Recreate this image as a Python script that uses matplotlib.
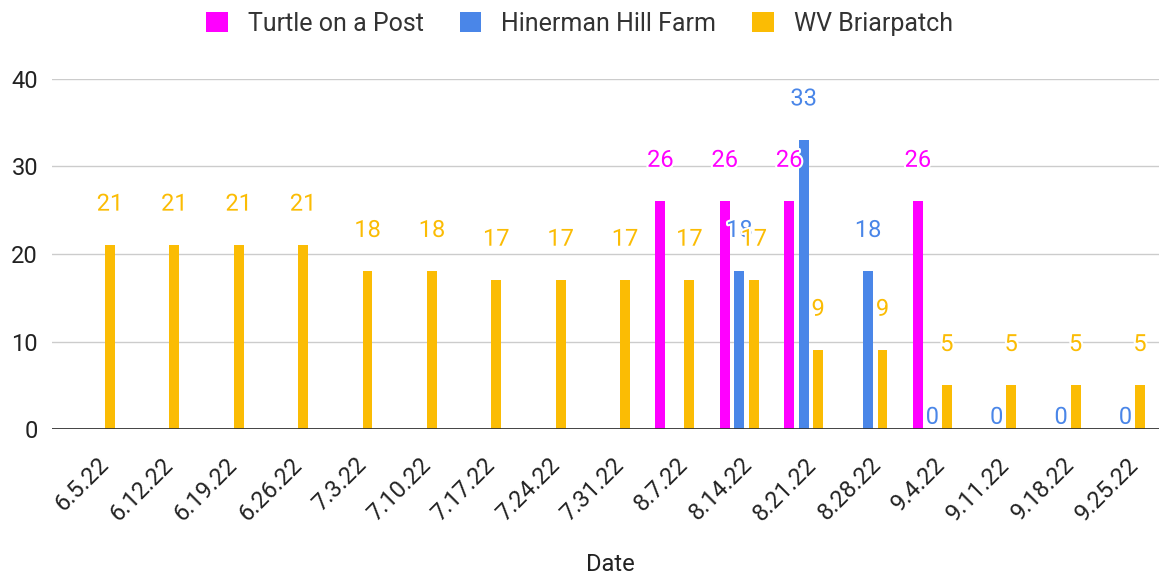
import numpy as np
import matplotlib
matplotlib.use("Agg")
import matplotlib.pyplot as plt
from matplotlib.patches import Patch
import matplotlib.patheffects as pe

plt.rcParams['font.family'] = ['Roboto', 'DejaVu Sans']

# data (None = no value for that week)
dates = ['6.5.22', '6.12.22', '6.19.22', '6.26.22', '7.3.22', '7.10.22', '7.17.22',
         '7.24.22', '7.31.22', '8.7.22', '8.14.22', '8.21.22', '8.28.22', '9.4.22',
         '9.11.22', '9.18.22', '9.25.22']
turtle = [None, None, None, None, None, None, None, None, None,
          26, 26, 26, None, 26, None, None, None]
hinerman = [None, None, None, None, None, None, None, None, None,
            None, 18, 33, 18, 0, 0, 0, 0]
briarpatch = [21, 21, 21, 21, 18, 18, 17, 17, 17, 17, 17, 9, 9, 5, 5, 5, 5]

series_names = ['Turtle on a Post', 'Hinerman Hill Farm', 'WV Briarpatch']
colors = ['#FF00FF', '#4A86E8', '#FBBC04']

fig = plt.figure(figsize=(11.59, 5.75), dpi=100)
ax = fig.add_axes([52 / 1159, 0.2534, 1107 / 1159, 0.610])

x = np.arange(len(dates))
offset = 0.225
width = 0.155

for k, (vals, col) in enumerate(zip([turtle, hinerman, briarpatch], colors)):
    xs = [x[i] + (k - 1) * offset for i, v in enumerate(vals) if v is not None]
    ys = [v for v in vals if v is not None]
    ax.bar(xs, ys, width=width, color=col, zorder=3)
    for xi, yi in zip(xs, ys):
        ax.annotate(str(yi), (xi, yi), xytext=(0, 41 if yi > 0 else 12),
                    textcoords='offset pixels', ha='center', va='center',
                    fontsize=17, color=col, zorder=5,
                    path_effects=[pe.withStroke(linewidth=3, foreground='white')])

ax.set_xlim(-0.676, 16.52)
ax.set_ylim(0, 40)
ax.set_yticks([0, 10, 20, 30, 40])
ax.grid(axis='y', color='#cccccc', linewidth=1, zorder=0)
ax.axhline(0, color='#333333', linewidth=2, zorder=4)

for s in ax.spines.values():
    s.set_visible(False)

ax.set_xticks(x + 0.15)
ax.set_xticklabels(dates, rotation=45, ha='right', va='center',
                   rotation_mode='anchor')
ax.tick_params(axis='x', length=0, pad=23, labelsize=17, labelcolor='#222222')
ax.tick_params(axis='y', length=0, pad=10, labelsize=17, labelcolor='#222222')

ax.set_xlabel('Date', fontsize=17, color='#222222')
ax.xaxis.set_label_coords(0.504, -0.353)

handles = [Patch(facecolor=c, edgecolor='none') for c in colors]
fig.legend(handles, series_names, loc='center', bbox_to_anchor=(0.5, 0.959),
           ncol=3, frameon=False, fontsize=18, handlelength=0.85,
           handleheight=0.85, handletextpad=0.8, columnspacing=1.45,
           labelcolor='#333333')

fig.savefig('out.png', dpi=100)
